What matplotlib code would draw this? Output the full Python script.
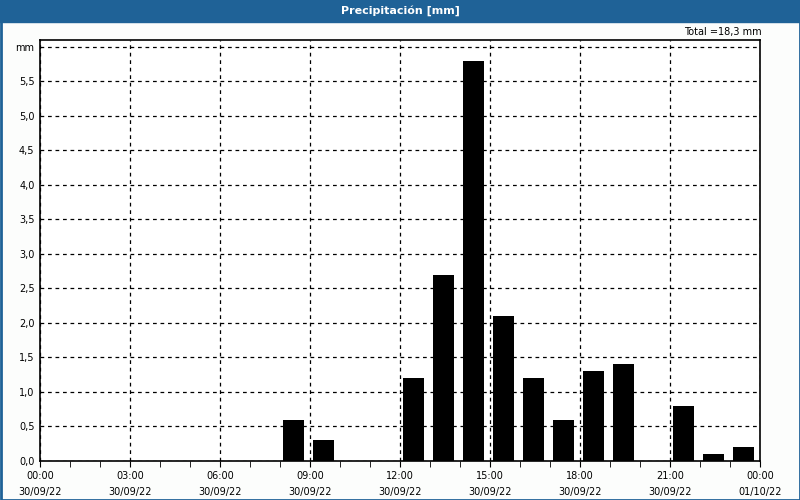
import numpy as np
import matplotlib
matplotlib.use("Agg")
import matplotlib.pyplot as plt
from matplotlib.patches import Rectangle

# hourly rain (hour start, mm)
hours = [8, 9, 12, 13, 14, 15, 16, 17, 18, 19, 21, 22, 23]
rain = [0.6, 0.3, 1.2, 2.7, 5.8, 2.1, 1.2, 0.6, 1.3, 1.4, 0.8, 0.1, 0.2]
xlabels = ['00:00\n30/09/22', '03:00\n30/09/22', '06:00\n30/09/22', '09:00\n30/09/22',
           '12:00\n30/09/22', '15:00\n30/09/22', '18:00\n30/09/22', '21:00\n30/09/22',
           '00:00\n01/10/22']
ylabels = ['0,0', '0,5', '1,0', '1,5', '2,0', '2,5', '3,0', '3,5', '4,0', '4,5',
           '5,0', '5,5', 'mm']

blue = '#1f6297'
plt.rcParams['font.family'] = 'DejaVu Sans'

fig = plt.figure(figsize=(8, 5), dpi=100, facecolor='#fcfdfc')
# title bar and frame
fig.patches.append(Rectangle((0, 478/500), 1, 22/500, transform=fig.transFigure,
                             color=blue, zorder=0))
fig.patches.append(Rectangle((0.5/800, 0.5/500), 799/800, 499/500, transform=fig.transFigure,
                             fill=False, edgecolor=blue, lw=2, zorder=5))
fig.text(0.5, 489/500, 'Precipitación [mm]', color='white', fontsize=8, fontweight='bold',
         ha='center', va='center')
fig.text(762/800, 468/500, 'Total =18,3 mm', fontsize=7, ha='right', va='center')

ax = fig.add_axes([40/800, 39/500, 720/800, 421/500])
ax.set_facecolor('white')
ax.bar(np.array(hours) + 0.45, rain, width=0.7, color='black', zorder=3)
ax.set_xlim(0, 24)
ax.set_ylim(0, 6.1)
ax.set_xticks(np.arange(0, 25, 3))
ax.set_xticklabels(xlabels, fontsize=7, linespacing=1.75)
ax.set_xticks(np.arange(0, 25, 1), minor=True)
ax.set_yticks(np.arange(0, 6.01, 0.5))
ax.set_yticklabels(ylabels, fontsize=7)
ax.tick_params(axis='y', length=0, pad=4)
ax.tick_params(axis='x', which='both', length=4, direction='out', pad=3)
ax.grid(True, color='black', linestyle=(0, (3, 3)), lw=0.9, zorder=1)
for s in ax.spines.values():
    s.set_linewidth(1.2)

fig.savefig('out.png', dpi=100, facecolor=fig.get_facecolor())
